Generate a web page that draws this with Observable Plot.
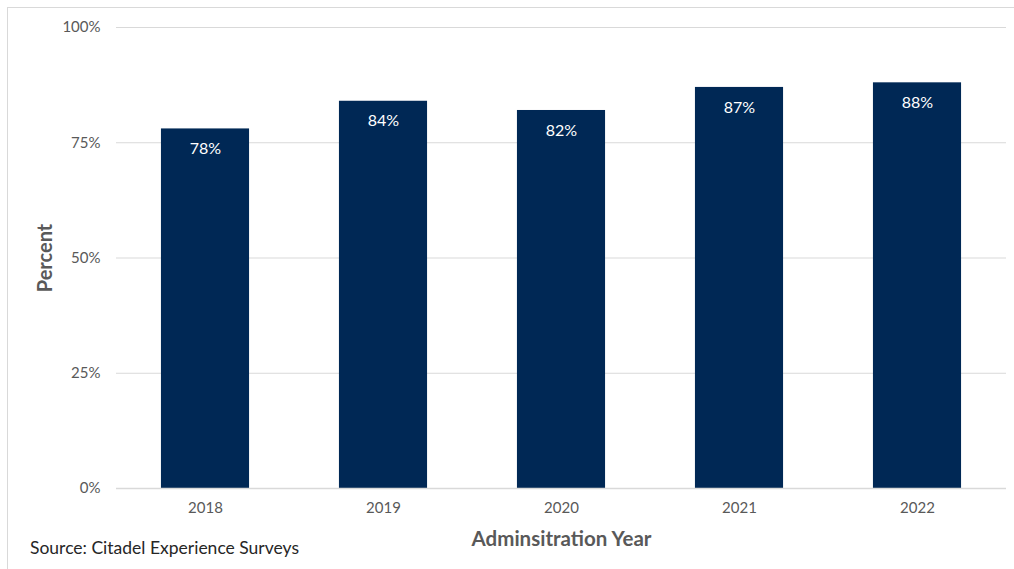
<!DOCTYPE html>
<html>
<head>
<meta charset="utf-8">
<script src="https://cdn.jsdelivr.net/npm/d3@7"></script>
<script src="https://cdn.jsdelivr.net/npm/@observablehq/plot@0.6"></script>
<style>
  html, body { margin: 0; padding: 0; background: #fff; }
  #wrap { position: relative; width: 1014px; height: 569px; overflow: hidden; font-family: Lato, "Open Sans", sans-serif; }
  #frame { position: absolute; left: 7px; top: 7px; width: 1010px; height: 600px; border: 1px solid #d9d9d9; box-sizing: border-box; pointer-events: none; }
  #source { position: absolute; left: 30px; top: 537px; font-size: 17.5px; color: #262626; }
  #chart svg { display: block; }
</style>
</head>
<body>
<div id="wrap">
  <div id="chart"></div>
  <div id="frame"></div>
  <div id="source">Source: Citadel Experience Surveys</div>
</div>
<script>
const years = ["2018", "2019", "2020", "2021", "2022"];
const values = [78, 84, 82, 87, 88];
const yTicks = [0, 25, 50, 75, 100];
const xTitle = "Adminsitration Year";
const yTitle = "Percent";

const data = years.map((y, i) => ({year: y, value: values[i]}));

const chart = Plot.plot({
  width: 1014,
  height: 569,
  marginTop: 27,
  marginBottom: 81,
  marginLeft: 116,
  marginRight: 8,
  style: {fontFamily: "Lato, 'Open Sans', sans-serif", fontSize: "15px", color: "#595959", background: "transparent"},
  x: {domain: years, paddingInner: 0.505, paddingOuter: 0.2525, round: false, label: null},
  y: {domain: [0, 100], label: null},
  marks: [
    Plot.gridY(yTicks, {stroke: "#d9d9d9", strokeOpacity: 1, strokeWidth: 1}),
    Plot.axisY({ticks: yTicks, tickSize: 0, tickPadding: 16, tickFormat: d => d + "%", fill: "#595959"}),
    Plot.axisX({tickSize: 0, tickPadding: 14, fill: "#595959"}),
    Plot.barY(data, {x: "year", y: "value", fill: "#002855"}),
    Plot.ruleY([0], {stroke: "#d9d9d9", strokeWidth: 1.5}),
    Plot.text(data, {x: "year", y: "value", text: d => d.value + "%", dy: 20, fill: "white", fontSize: 16}),
    Plot.text([xTitle], {frameAnchor: "bottom", dy: 51, lineAnchor: "middle", textAnchor: "middle", text: d => d, fontSize: 20.5, fontWeight: "bold", fill: "#595959"}),
    Plot.text([yTitle], {frameAnchor: "left", dx: -71, dy: 0, rotate: -90, lineAnchor: "middle", textAnchor: "middle", text: d => d, fontSize: 20, fontWeight: "bold", fill: "#595959"})
  ]
});
document.getElementById("chart").appendChild(chart);
</script>
</body>
</html>
